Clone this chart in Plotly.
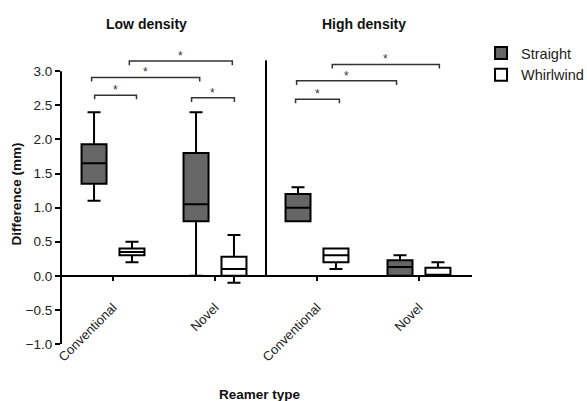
import plotly.graph_objects as go

# ---- data ----
groups = ["Low density", "High density"]
reamer_labels = ["Conventional", "Novel", "Conventional", "Novel"]
positions = [0, 1, 2, 3]

straight_low = [1.10, 0.00, 0.80, 0.00]
straight_q1 = [1.35, 0.80, 0.80, 0.00]
straight_med = [1.65, 1.05, 1.00, 0.13]
straight_q3 = [1.93, 1.80, 1.20, 0.23]
straight_high = [2.40, 2.40, 1.30, 0.30]

whirl_low = [0.20, -0.10, 0.10, 0.00]
whirl_q1 = [0.30, 0.00, 0.20, 0.00]
whirl_med = [0.35, 0.10, 0.30, 0.00]
whirl_q3 = [0.40, 0.28, 0.40, 0.12]
whirl_high = [0.50, 0.60, 0.40, 0.20]

# significance brackets (x start, x end, height)
br_x0 = [-0.18, -0.21, 0.16, 0.77, 1.79, 1.80, 2.15]
br_x1 = [0.23, 0.85, 1.17, 1.19, 2.22, 2.78, 3.20]
br_y = [2.65, 2.91, 3.15, 2.61, 2.59, 2.86, 3.10]
br_text = ["*", "*", "*", "*", "*", "*", "*"]

yticks = [-1.0, -0.5, 0.0, 0.5, 1.0, 1.5, 2.0, 2.5, 3.0]
y_min, y_max = -1.0, 3.4
x_min, x_max = -0.51, 3.52

FONT = "Liberation Sans, Arial, sans-serif"

fig = go.Figure()
fig.add_trace(go.Box(
    name="Straight", x=positions, q1=straight_q1, median=straight_med, q3=straight_q3,
    lowerfence=straight_low, upperfence=straight_high,
    fillcolor="#666666", line=dict(color="black", width=2), whiskerwidth=0.52,
    hoverinfo="skip"))
fig.add_trace(go.Box(
    name="Whirlwind", x=positions, q1=whirl_q1, median=whirl_med, q3=whirl_q3,
    lowerfence=whirl_low, upperfence=whirl_high,
    fillcolor="white", line=dict(color="black", width=2), whiskerwidth=0.52,
    hoverinfo="skip"))

shapes = []
# y axis line from -1 to 3
shapes.append(dict(type="line", xref="x domain", yref="y", x0=0, x1=0,
                   y0=yticks[0], y1=yticks[-1], line=dict(color="black", width=2)))
# divider between density groups
shapes.append(dict(type="line", xref="x", yref="y", x0=1.5, x1=1.5, y0=0, y1=3.16,
                   line=dict(color="black", width=2)))
annotations = []
tick_d = 0.06
for x0, x1, y, t in zip(br_x0, br_x1, br_y, br_text):
    shapes.append(dict(type="path", xref="x", yref="y",
                       path=f"M{x0},{y - tick_d} L{x0},{y} L{x1},{y} L{x1},{y - tick_d}",
                       line=dict(color="#333333", width=1.5)))
    annotations.append(dict(x=(x0 + x1) / 2, y=y, xref="x", yref="y", text=t,
                            showarrow=False, yanchor="middle", yshift=5,
                            font=dict(family=FONT, size=12, color="#333333")))

title_x = [0.33, 2.46]
for gx, g in zip(title_x, groups):
    annotations.append(dict(x=gx, y=1.0667, xref="x", yref="paper", text=f"<b>{g}</b>",
                            showarrow=False, yanchor="middle",
                            font=dict(family=FONT, size=14, color="#111111")))
annotations.append(dict(x=0.484, y=-0.137, xref="paper", yref="paper",
                        text="<b>Reamer type</b>", showarrow=False, yanchor="top",
                        font=dict(family=FONT, size=13.5, color="#111111")))

fig.update_layout(
    width=587, height=401,
    margin=dict(l=61, r=115, t=44, b=57, autoexpand=False),
    paper_bgcolor="white", plot_bgcolor="white",
    boxmode="group", boxgap=0.256, boxgroupgap=0.341,
    font=dict(family=FONT, size=13, color="#222222"),
    showlegend=True,
    legend=dict(x=1.022, y=1.0233, xanchor="left", yanchor="top",
                font=dict(family=FONT, size=14.5, color="#222222"),
                itemclick=False, itemdoubleclick=False),
    shapes=shapes, annotations=annotations,
    xaxis=dict(range=[x_min, x_max], tickvals=positions, ticktext=reamer_labels,
               tickangle=-45, ticks="outside", ticklen=4, tickwidth=2, tickcolor="black",
               showline=True, linecolor="black", linewidth=2, showgrid=False, zeroline=False,
               anchor="free", position=(0 - y_min) / (y_max - y_min), automargin=False,
               ticklabelstandoff=14,
               tickfont=dict(family=FONT, size=13, color="#222222")),
    yaxis=dict(range=[y_min, y_max], tickvals=yticks, tickformat=".1f", automargin=False,
               ticks="outside", ticklen=5, tickwidth=2, tickcolor="black",
               showline=False, showgrid=False, zeroline=False,
               title=dict(text="<b>Difference (mm)</b>", standoff=0,
                          font=dict(family=FONT, size=13.5, color="#111111")),
               tickfont=dict(family=FONT, size=13.5, color="#222222")),
)

fig.write_html("out.html")
